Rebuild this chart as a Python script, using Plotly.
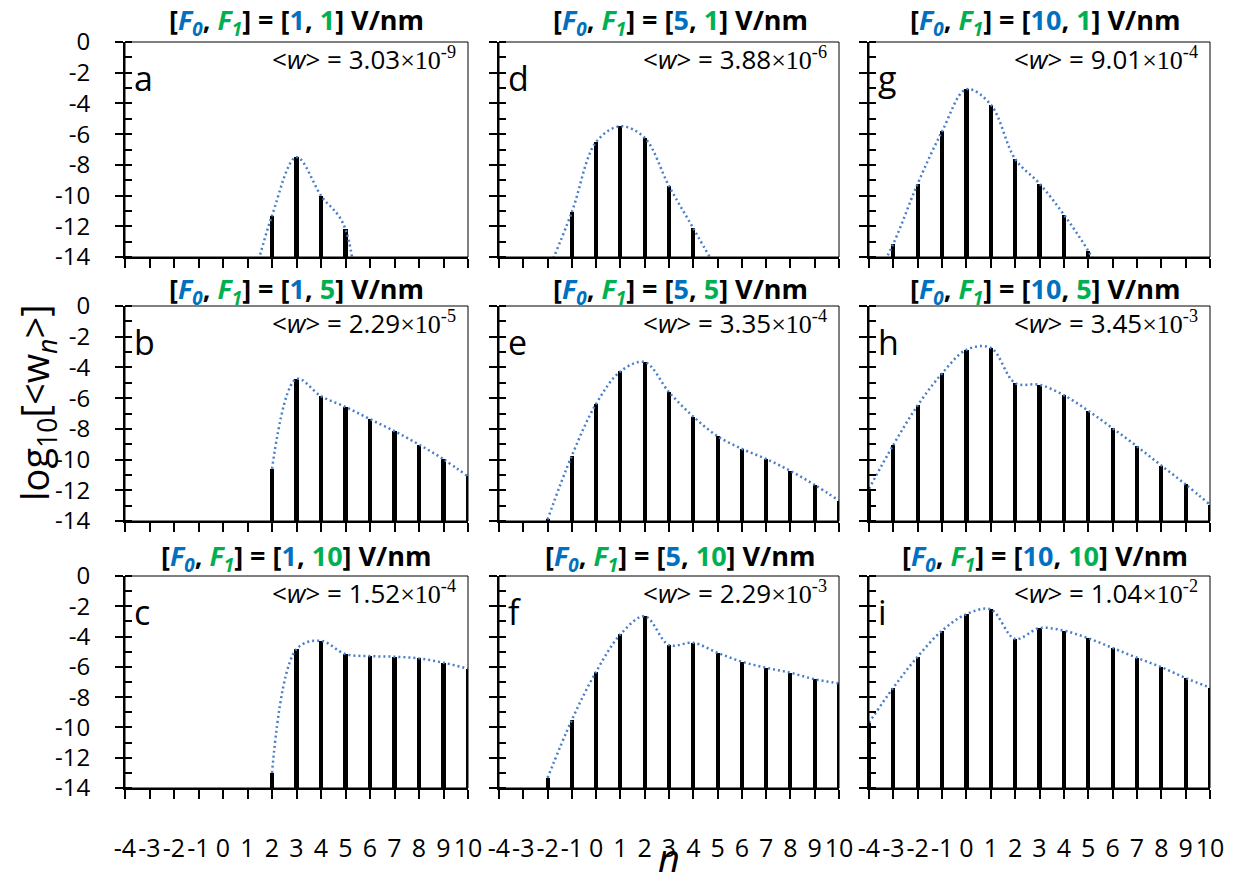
import plotly.graph_objects as go

# ---------------- data ----------------
n_vals = list(range(-4, 11))
panel_letters = ["a", "b", "c", "d", "e", "f", "g", "h", "i"]
F0 = [1, 1, 1, 5, 5, 5, 10, 10, 10]
F1 = [1, 5, 10, 1, 5, 10, 1, 5, 10]
w_mant = ["3.03", "2.29", "1.52", "3.88", "3.35", "2.29", "9.01", "3.45", "1.04"]
w_exp = [-9, -5, -4, -6, -4, -3, -4, -3, -2]

N = None
logw_a = [N, N, N, N, N, -17.0, -11.3, -7.5, -10.0, -12.2, -40.0, N, N, N, N]
logw_b = [N, N, N, N, N, N, -10.6, -4.75, -5.87, -6.57, -7.37, -8.15, -9.02, -9.98, -11.1]
logw_c = [N, N, N, N, N, N, -13.0, -4.83, -4.28, -5.16, -5.29, -5.33, -5.44, -5.73, -6.12]
logw_d = [N, N, -15.0, -11.07, -6.51, -5.49, -6.25, -9.38, -12.13, -14.9, N, N, N, N, N]
logw_e = [N, N, -13.9, -9.74, -6.37, -4.26, -3.65, -5.61, -7.2, -8.48, -9.3, -9.96, -10.74, -11.65, -12.67]
logw_f = [N, N, -13.34, -9.5, -6.32, -3.86, -2.66, -4.56, -4.41, -5.07, -5.66, -6.06, -6.39, -6.82, -7.09]
logw_g = [-16.2, -13.13, -9.22, -5.82, -3.08, -4.08, -7.62, -9.22, -11.24, -13.6, -16.5, N, N, N, N]
logw_h = [-11.9, -9.04, -6.47, -4.39, -2.85, -2.72, -5.02, -5.13, -5.81, -6.82, -7.96, -9.14, -10.39, -11.62, -12.94]
logw_i = [-9.69, -7.37, -5.32, -3.61, -2.52, -2.21, -4.16, -3.44, -3.61, -4.11, -4.75, -5.4, -6.02, -6.74, -7.37]
panels = [logw_a, logw_b, logw_c, logw_d, logw_e, logw_f, logw_g, logw_h, logw_i]

y_ticks = [0, -2, -4, -6, -8, -10, -12, -14]

# ---------------- layout geometry ----------------
W, H = 1245, 875
cols_px = [(125, 468), (499, 839), (869, 1210)]
rows_px = [(42, 257), (306, 521), (576, 788)]
title_x_px = [296, 680, 1045]
title_y_px = [21, 290, 557]

BLUE = "#0070C0"
GREEN = "#00B050"
CURVE = "#4A7EC8"
FONT = "Open Sans"
SERIF = "Liberation Serif"

def px_x(x):
    return x / W

def px_y(y):
    return 1 - y / H

fig = go.Figure()
annotations = []
shapes = []

for k in range(9):
    col = k // 3
    row = k % 3
    idx = k + 1
    xa = "x" if idx == 1 else f"x{idx}"
    ya = "y" if idx == 1 else f"y{idx}"
    vals = panels[k]

    # bars (drawn from the -14 floor up to the value)
    bx = [n for n, v in zip(n_vals, vals) if v is not None and v > -14]
    by = [v + 14 for v in vals if v is not None and v > -14]
    fig.add_trace(go.Bar(x=bx, y=by, base=-14, width=0.17,
                         marker=dict(color="black", line=dict(width=0)),
                         xaxis=xa, yaxis=ya, showlegend=False, hoverinfo="skip"))
    # dotted smooth envelope
    fig.add_trace(go.Scatter(x=n_vals, y=vals, mode="lines",
                             line=dict(color=CURVE, width=2.5, dash="2px,3px",
                                       shape="spline", smoothing=1.0),
                             connectgaps=False, xaxis=xa, yaxis=ya,
                             showlegend=False, hoverinfo="skip"))

    x0, x1 = cols_px[col]
    y0, y1 = rows_px[row]
    xkey = "xaxis" if idx == 1 else f"xaxis{idx}"
    ykey = "yaxis" if idx == 1 else f"yaxis{idx}"
    fig.update_layout(**{
        xkey: dict(domain=[px_x(x0), px_x(x1)], anchor=ya, range=[-4, 10],
                   automargin=False, tickangle=0,
                   tickmode="array", tickvals=n_vals, ticktext=[str(v) for v in n_vals],
                   ticks="outside", ticklen=9, tickwidth=1.5, tickcolor="black",
                   showticklabels=(row == 2), ticklabelstandoff=28,
                   tickfont=dict(family=FONT, size=25, color="black"),
                   showline=True, linewidth=2, linecolor="black", mirror=False,
                   showgrid=False, zeroline=False, fixedrange=True),
        ykey: dict(domain=[px_y(y1), px_y(y0)], anchor=xa, range=[-14, 0],
                   automargin=False,
                   tickmode="array", tickvals=y_ticks, ticktext=[str(v) for v in y_ticks],
                   ticks="outside", ticklen=8, tickwidth=1.5, tickcolor="black",
                   minor=dict(dtick=1, tick0=0, ticks="inside", ticklen=7,
                              tickwidth=1.5, tickcolor="black", showgrid=False),
                   showticklabels=(col == 0), ticklabelstandoff=20,
                   tickfont=dict(family=FONT, size=24, color="black"),
                   showline=True, linewidth=2, linecolor="black", mirror=False,
                   showgrid=False, zeroline=False, fixedrange=True),
    })

    # thin frame (top / right)
    shapes.append(dict(type="rect", xref="paper", yref="paper",
                       x0=px_x(x0), x1=px_x(x1), y0=px_y(y1), y1=px_y(y0),
                       line=dict(color="black", width=1), layer="above"))

    # panel title
    title = (f"<b>[<span style='color:{BLUE}'><i>F<sub>0</sub></i></span>, "
             f"<span style='color:{GREEN}'><i>F<sub>1</sub></i></span>] = "
             f"[<span style='color:{BLUE}'>{F0[k]}</span>, "
             f"<span style='color:{GREEN}'>{F1[k]}</span>] V/nm</b>")
    annotations.append(dict(text=title, x=px_x(title_x_px[col]), y=px_y(title_y_px[row]),
                            xref="paper", yref="paper", xanchor="center", yanchor="middle",
                            showarrow=False, font=dict(family=FONT, size=27, color="black")))
    # mean rate text
    wtxt = (f"&lt;<i>w</i>&gt; = {w_mant[k]}"
            f"<span style='font-family:{SERIF}'>×10<sup>{w_exp[k]}</sup></span>")
    annotations.append(dict(text=wtxt, x=px_x(x1 - 10), y=px_y(y0 + 17),
                            xref="paper", yref="paper", xanchor="right", yanchor="middle",
                            showarrow=False, font=dict(family=FONT, size=26, color="black")))
    # panel letter
    annotations.append(dict(text=panel_letters[k], x=px_x(x0 + 7), y=px_y(y0 + 36),
                            xref="paper", yref="paper", xanchor="left", yanchor="middle",
                            showarrow=False, font=dict(family=FONT, size=34, color="black")))

# axis titles
annotations.append(dict(text="log<sub>10</sub>[&lt;w<sub><i>n</i></sub>&gt;]",
                        x=px_x(36), y=px_y(403), xref="paper", yref="paper",
                        xanchor="center", yanchor="middle", textangle=-90, showarrow=False,
                        font=dict(family=FONT, size=38, color="black")))
annotations.append(dict(text="<i>n</i>", x=px_x(669), y=-10 / H, xref="paper", yref="paper",
                        xanchor="center", yanchor="bottom", showarrow=False,
                        font=dict(family=FONT, size=38, color="black")))

fig.update_layout(width=W, height=H, margin=dict(l=0, r=0, t=0, b=0),
                  paper_bgcolor="white", plot_bgcolor="white",
                  annotations=annotations, shapes=shapes, bargap=0, showlegend=False)

fig.write_html("out.html")
